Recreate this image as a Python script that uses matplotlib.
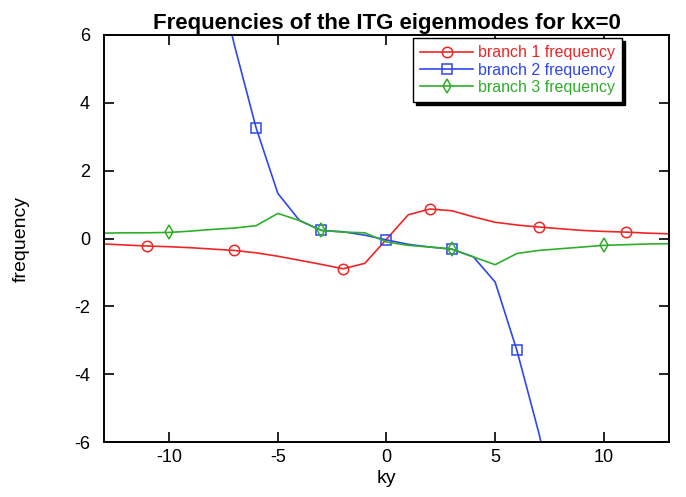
import numpy as np
import matplotlib
matplotlib.use("Agg")
import matplotlib.pyplot as plt

plt.rcParams['font.family'] = ['Liberation Sans', 'DejaVu Sans']
plt.rcParams['axes.unicode_minus'] = False

# ky grid and read-off frequencies
ky = [-13, -12, -11, -10, -9, -8, -7, -6, -5, -4, -3, -2, -1, 0,
      1, 2, 3, 4, 5, 6, 7, 8, 9, 10, 11, 12, 13]

branch1 = [-0.16, -0.19, -0.22, -0.24, -0.27, -0.31, -0.35, -0.42, -0.52, -0.64, -0.76, -0.89, -0.73, -0.02,
           0.70, 0.87, 0.82, 0.64, 0.48, 0.40, 0.34, 0.29, 0.24, 0.21, 0.19, 0.16, 0.14]

branch3 = [0.16, 0.17, 0.17, 0.18, 0.22, 0.27, 0.31, 0.38, 0.74, 0.53, 0.24, 0.19, 0.17, -0.10,
           -0.20, -0.25, -0.31, -0.54, -0.77, -0.44, -0.35, -0.30, -0.25, -0.20, -0.18, -0.16, -0.15]

# branch 2 leaves the plotted window outside |ky| > 8
ky2 = [-8, -7, -6, -5, -4, -3, -2, -1, 0, 1, 2, 3, 4, 5, 6, 7, 8]
branch2 = [8.4, 5.7, 3.26, 1.33, 0.53, 0.24, 0.2, 0.1, -0.04, -0.17, -0.25, -0.31, -0.54, -1.28, -3.29, -5.7, -8.4]

# where the symbols sit
marks1 = [-11, -7, -2, 2, 7, 11]
marks2 = [-6, -3, 0, 3, 6]
marks3 = [-10, -3, 3, 10]

c_red = '#ee2626'
c_blue = '#2f46f0'
c_green = '#2fae2a'

fig = plt.figure(figsize=(6.86, 4.97), dpi=100)
ax = fig.add_axes([0.1516, 0.110, 0.8236, 0.820])

ax.plot(ky, branch1, color=c_red, lw=1.2, marker='o', ms=7.5, mfc='none', mew=1.1,
        markevery=[ky.index(k) for k in marks1], label='branch 1 frequency')
ax.plot(ky2, branch2, color=c_blue, lw=1.2, marker='s', ms=7.5, mfc='none', mew=1.1,
        markevery=[ky2.index(k) for k in marks2], label='branch 2 frequency')
ax.plot(ky, branch3, color=c_green, lw=1.2, marker='d', ms=7, mfc='none', mew=1.1,
        markevery=[ky.index(k) for k in marks3], label='branch 3 frequency')

ax.set_xlim(-13, 13)
ax.set_ylim(-6, 6)
ax.set_xticks([-10, -5, 0, 5, 10])
ax.set_yticks([-6, -4, -2, 0, 2, 4, 6])
ax.tick_params(direction='in', length=7.5, width=1.2, top=True, right=True, labelsize=13)
ax.tick_params(axis='x', pad=5)
ax.tick_params(axis='y', pad=10)
for s in ax.spines.values():
    s.set_linewidth(1.4)

ax.set_title('Frequencies of the ITG eigenmodes for kx=0', fontsize=16, fontweight='bold', pad=4)
ax.set_xlabel('ky', fontsize=14, labelpad=3)
ax.set_ylabel('frequency', fontsize=14, labelpad=32)

leg = ax.legend(loc='upper left', bbox_to_anchor=(0.547, 0.992), fontsize=11.5,
                labelcolor='linecolor', fancybox=False, framealpha=1, edgecolor='black',
                shadow={'color': 'black', 'alpha': 1}, handlelength=3.3, handletextpad=0.3,
                borderpad=0.45, labelspacing=0.15, borderaxespad=0)
leg.get_frame().set_linewidth(1.0)

fig.savefig('out.png', dpi=100)
